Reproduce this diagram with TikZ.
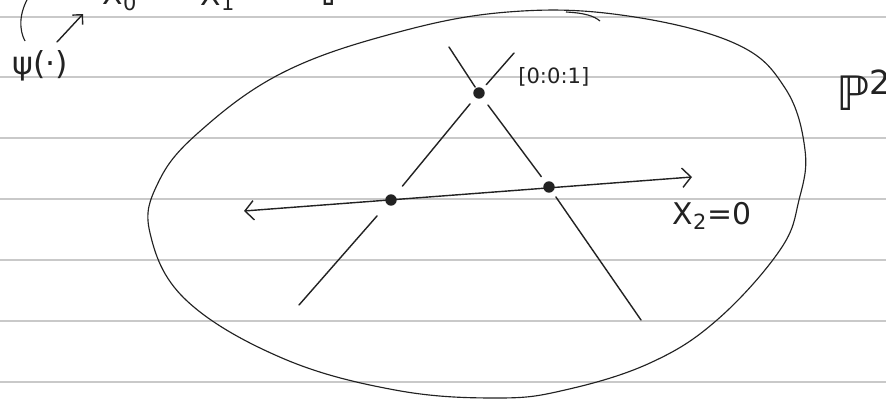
\documentclass[tikz,border=0pt]{standalone}
\usepackage{fontspec}
\setmainfont{DejaVu Sans}
\usepackage{xcolor}
\definecolor{pInk}{HTML}{222222}
\definecolor{pRule}{HTML}{C9C9C9}
\usepackage{tikz}
\usetikzlibrary{arrows.meta, calc}

\begin{document}
\begin{tikzpicture}[
  x=0.02cm, y=-0.02cm,
  every node/.style={text=pInk, inner sep=0pt},
  ink/.style={draw=pInk, line width=0.8pt, line cap=round},
  curve/.style={draw=pInk, line width=0.65pt},
  dotnode/.style={circle, fill=pInk, minimum size=6.5pt},
  barbs/.style={{Straight Barb[length=5pt, width=11pt]}-{Straight Barb[length=5pt, width=11pt]}},
  barb/.style={-{Straight Barb[length=4pt, width=8pt]}}
]
\clip (0,0) rectangle (886,399);
\fill[white] (0,0) rectangle (886,399);

% ruled paper
\foreach \yy in {17,77,138,199,260,321,382}
  \draw[pRule, line width=0.6pt] (0,\yy) -- (886,\yy);

% fragments of the line above
\node[anchor=base, font=\fontsize{17}{17}\selectfont] (xzero) at (120,5) {X\textsubscript{0}};
\node[anchor=base, font=\fontsize{17}{17}\selectfont] (xone) at (218,6) {X\textsubscript{1}};
\node[anchor=base, font=\fontsize{27}{27}\selectfont] (pone) at (336,6) {ℙ};

% psi label and its hooks
\node[font=\fontsize{18}{18}\selectfont] (psi) at (40,66) {ψ(·)};
\coordinate (hookA) at (28,-2);
\coordinate (hookB) at (25,41);
\coordinate (psiTip) at (83,14);
\draw[curve] (hookA) .. controls (19,14) and (19,30) .. (hookB);
\draw[ink, barb] (57,42) -- (psiTip);

% the plane
\draw[curve] plot[smooth cycle, tension=0.65] coordinates {
  (508,12) (621,15) (734,43) (785,88) (805,150) (799,200) (780,250)
  (717,320) (650,363) (565,390) (497,398) (395,390) (282,358)
  (186,300) (150,233) (158,183) (198,133) (282,73) (395,33)};
\draw[curve] (566,12) .. controls (585,13) and (594,16) .. (600,21);
\node[anchor=west, font=\fontsize{27}{27}\selectfont] (ptwo) at (836,90) {ℙ\textsuperscript{2}};

\coordinate (lOneA) at (299,305);
\coordinate (lOneB) at (514,53);
\coordinate (lTwoA) at (449,47);
\coordinate (lTwoB) at (641,320);
\coordinate (hA) at (244,211);
\coordinate (hB) at (692,177);

% the line X_2 = 0
\draw[ink, barbs] (hA) -- (hB);

% points
\node[dotnode] (pTop) at (479,93) {};
\node[dotnode] (pL) at (391,200) {};
\node[dotnode] (pR) at (549,187) {};

% two lines through [0:0:1], broken at the points
\draw[ink] (lOneA) -- ($(pL)!0.42cm!(lOneA)$);
\draw[ink] ($(pL)!0.36cm!(pTop)$) -- ($(pTop)!0.28cm!(pL)$);
\draw[ink] ($(pTop)!0.22cm!(lOneB)$) -- (lOneB);
\draw[ink] (lTwoA) -- ($(pTop)!0.14cm!(lTwoA)$);
\draw[ink] ($(pTop)!0.3cm!(pR)$) -- ($(pR)!0.26cm!(pTop)$);
\draw[ink] ($(pR)!0.24cm!(lTwoB)$) -- (lTwoB);

\node[anchor=west, font=\fontsize{12}{12}\selectfont] (ptlabel) at (518,77) {[0:0:1]};
\node[font=\fontsize{17}{17}\selectfont] (xtwo) at (712,216) {X\textsubscript{2}=0};
\end{tikzpicture}
\end{document}
